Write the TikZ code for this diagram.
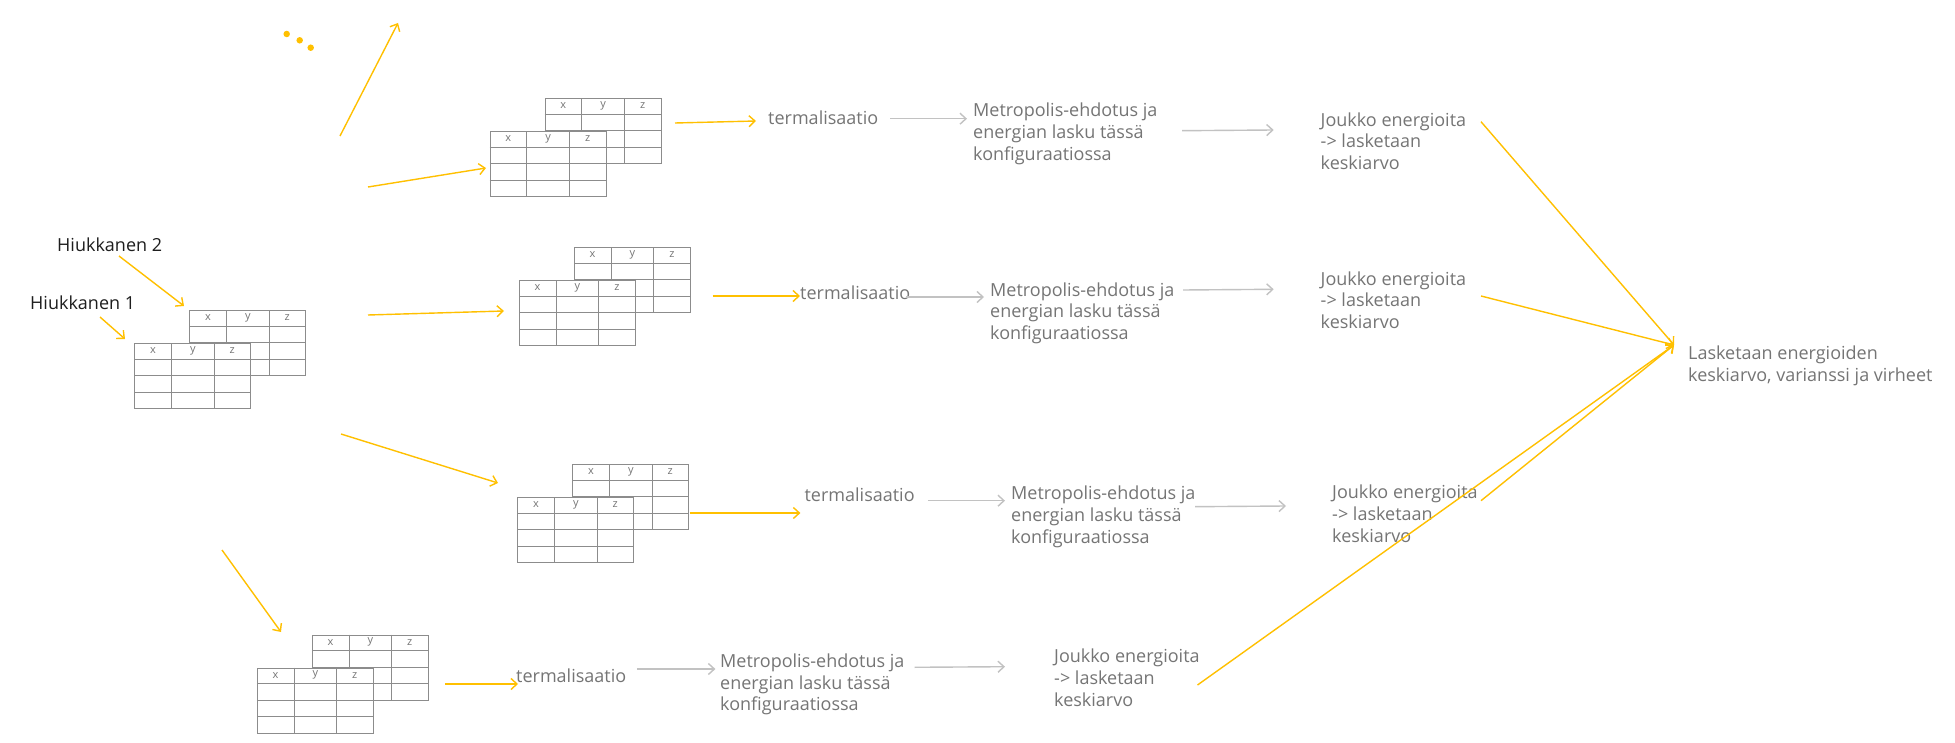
\documentclass[tikz,border=0pt]{standalone}
\usepackage{fontspec}
\setmainfont{Open Sans}
\usetikzlibrary{arrows.meta}
\definecolor{ylw}{HTML}{FFC000}
\definecolor{txtgrey}{HTML}{757575}
\definecolor{gline}{HTML}{C2C2C2}
\definecolor{tline}{HTML}{8C8C8C}
\definecolor{txtdark}{HTML}{1E1E1E}
\tikzset{
  yarrow/.style={draw=ylw, line width=1.4pt, -{Straight Barb[length=6pt,width=11pt]}},
  yline/.style={draw=ylw, line width=1.4pt},
  garrow/.style={draw=gline, line width=1.4pt, -{Straight Barb[length=6pt,width=11pt]}},
  lbl/.style={anchor=north west, inner sep=0pt, align=left, text=txtgrey, font=\fontsize{18}{21.7}\selectfont},
  dlbl/.style={lbl, text=txtdark},
  tbl/.style={draw=tline, fill=white, line width=1pt, minimum width=116pt, minimum height=65pt, inner sep=0pt, anchor=north west},
  tgrid/.style={draw=tline, line width=1pt},
  hdr/.style={text=txtgrey, font=\fontsize{11}{13}\selectfont, inner sep=0pt},
  ydot/.style={circle, fill=ylw, inner sep=0pt, minimum size=6.5pt},
}
\newcommand\xyztable[3]{%
  \begin{scope}[shift={(#2,#3)}]
    \node[tbl] (#1) at (0,0) {};
    \draw[tgrid] (37.2,0) -- (37.2,65);
    \draw[tgrid] (79.8,0) -- (79.8,65);
    \draw[tgrid] (0,16.25) -- (116,16.25);
    \draw[tgrid] (0,32.5) -- (116,32.5);
    \draw[tgrid] (0,48.75) -- (116,48.75);
    \node[hdr] (#1x) at (18.6,7.5) {x};
    \node[hdr] (#1y) at (58.5,7.5) {y};
    \node[hdr] (#1z) at (97.9,7.5) {z};
  \end{scope}}
\newcommand\tablepair[3]{%
  \xyztable{#1b}{#2+55}{#3-33}%
  \xyztable{#1f}{#2}{#3}}
\begin{document}
\begin{tikzpicture}[x=1pt,y=-1pt]
\useasboundingbox (0,0) rectangle (1955,743);
\fill[white] (0,0) rectangle (1955,743);

% dots
\node[ydot] (d1) at (286.7,34) {};
\node[ydot] (d2) at (299.7,40.3) {};
\node[ydot] (d3) at (310.7,47.7) {};

% tables
\tablepair{t0}{134.3}{343.3}
\tablepair{t1}{489.7}{131.3}
\tablepair{t2}{519}{280.5}
\tablepair{t3}{517.4}{497.3}
\tablepair{t4}{256.8}{667.7}

% labels
\node[dlbl] (h2) at (57,238) {Hiukkanen 2};
\node[dlbl] (h1) at (30,296) {Hiukkanen 1};

\node[lbl] (te1) at (768,110.7) {termalisaatio};
\node[lbl] (me1) at (973,103) {Metropolis-ehdotus ja\\energian lasku tässä\\konfiguraatiossa};
\node[lbl] (jo1) at (1320.5,112.3) {Joukko energioita\\-> lasketaan\\keskiarvo};

\node[lbl] (te2) at (800,285.3) {termalisaatio};
\node[lbl] (me2) at (990,282.3) {Metropolis-ehdotus ja\\energian lasku tässä\\konfiguraatiossa};
\node[lbl] (jo2) at (1320.5,271.3) {Joukko energioita\\-> lasketaan\\keskiarvo};

\node[lbl] (te3) at (804.4,488) {termalisaatio};
\node[lbl] (me3) at (1011,486) {Metropolis-ehdotus ja\\energian lasku tässä\\konfiguraatiossa};
\node[lbl] (jo3) at (1332,485) {Joukko energioita\\-> lasketaan\\keskiarvo};

\node[lbl] (te4) at (516,669) {termalisaatio};
\node[lbl] (me4) at (720,653.7) {Metropolis-ehdotus ja\\energian lasku tässä\\konfiguraatiossa};
\node[lbl] (jo4) at (1054,649) {Joukko energioita\\-> lasketaan\\keskiarvo};

\node[lbl] (res) at (1688,345.5) {Lasketaan energioiden\\keskiarvo, varianssi ja virheet};

% connector end points
\coordinate (h2s) at (119,256);  \coordinate (h2e) at (184,306);
\coordinate (h1s) at (100,317);  \coordinate (h1e) at (125,339);
\coordinate (ups) at (340,136);  \coordinate (upe) at (398,23);
\coordinate (a1s) at (368,187);  \coordinate (a1e) at (486,168);
\coordinate (a2s) at (368,315);  \coordinate (a2e) at (504,311);
\coordinate (a3s) at (341,434);  \coordinate (a3e) at (498,483);
\coordinate (a4s) at (222,550);  \coordinate (a4e) at (281,632);
\coordinate (b1s) at (675,123);  \coordinate (b1e) at (756,121);
\coordinate (b2s) at (712.5,296); \coordinate (b2e) at (800,296);
\coordinate (b3s) at (689.6,513); \coordinate (b3e) at (800.4,513);
\coordinate (b4s) at (445,684);  \coordinate (b4e) at (518,684);
\coordinate (tip) at (1674,345);
\coordinate (j1s) at (1481,121.7);
\coordinate (j2s) at (1481,296);
\coordinate (j3s) at (1481,500.7);
\coordinate (j4s) at (1197.5,685);
\coordinate (g1s) at (890,118.7);  \coordinate (g1e) at (967,118.7);
\coordinate (k1s) at (1182,130.7); \coordinate (k1e) at (1273.7,130);
\coordinate (g2s) at (906,297);    \coordinate (g2e) at (984,297);
\coordinate (k2s) at (1183,290);   \coordinate (k2e) at (1273.7,289.3);
\coordinate (g3s) at (927.8,500.7); \coordinate (g3e) at (1005,500.7);
\coordinate (k3s) at (1195,506.7); \coordinate (k3e) at (1286,506);
\coordinate (g4s) at (636.8,669);  \coordinate (g4e) at (715.4,669);
\coordinate (k4s) at (914.6,667.3); \coordinate (k4e) at (1005,666.7);

% yellow arrows
\draw[yarrow] (h2s) -- (h2e);
\draw[yarrow] (h1s) -- (h1e);
\draw[yarrow] (ups) -- (upe);
\draw[yarrow] (a1s) -- (a1e);
\draw[yarrow] (a2s) -- (a2e);
\draw[yarrow] (a3s) -- (a3e);
\draw[yarrow] (a4s) -- (a4e);
\draw[yarrow] (b1s) -- (b1e);
\draw[yarrow] (b2s) -- (b2e);
\draw[yarrow] (b3s) -- (b3e);
\draw[yarrow] (b4s) -- (b4e);
\draw[yarrow] (j1s) -- (tip);
\draw[yarrow] (j2s) -- (tip);
\draw[yarrow] (j3s) -- (tip);
\draw[yarrow] (j4s) -- (tip);

% grey arrows
\draw[garrow] (g1s) -- (g1e);
\draw[garrow] (k1s) -- (k1e);
\draw[garrow] (g2s) -- (g2e);
\draw[garrow] (k2s) -- (k2e);
\draw[garrow] (g3s) -- (g3e);
\draw[garrow] (k3s) -- (k3e);
\draw[garrow] (g4s) -- (g4e);
\draw[garrow] (k4s) -- (k4e);
\end{tikzpicture}
\end{document}
